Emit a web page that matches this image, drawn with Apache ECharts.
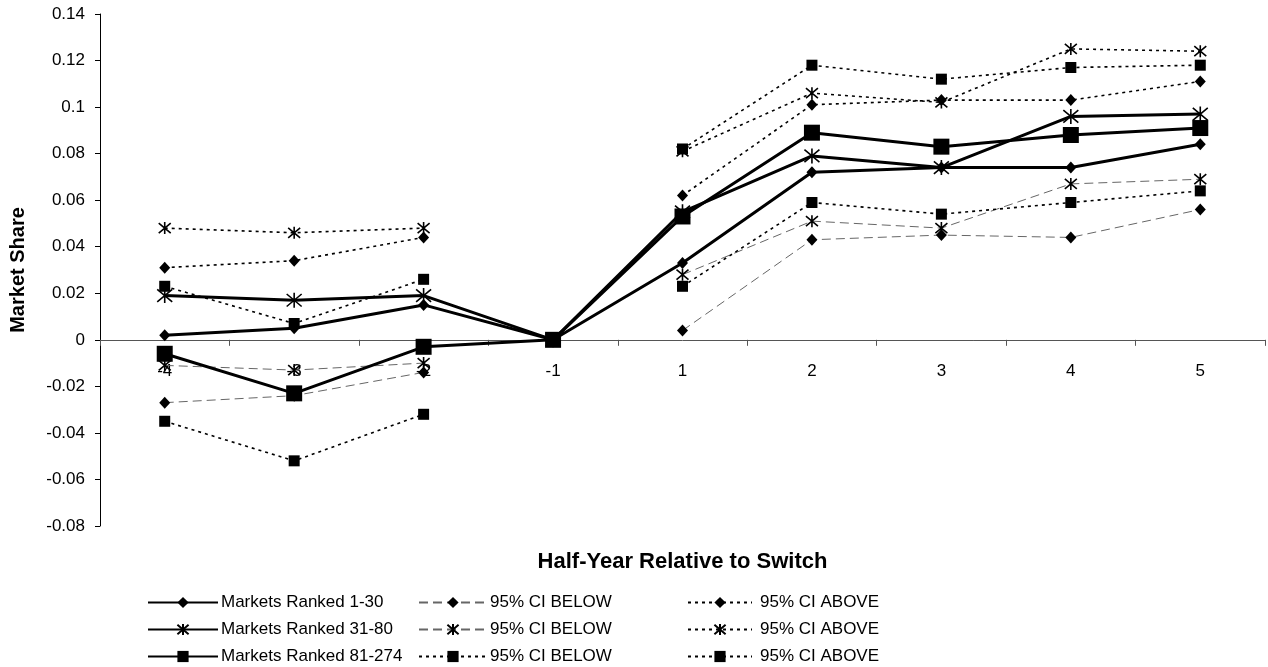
<!DOCTYPE html>
<html>
<head>
<meta charset="utf-8">
<script src="https://cdn.jsdelivr.net/npm/echarts@6/dist/echarts.min.js"></script>
<style>
  html, body { margin: 0; padding: 0; background: #fff; }
  #chart { width: 1268px; height: 667px; }
</style>
</head>
<body>
<div id="chart"></div>
<script>
  // half-year relative to switch
  var categories = ['-4', '-3', '-2', '-1', '1', '2', '3', '4', '5'];

  var rank1_30   = [0.002, 0.005, 0.015, 0, 0.033, 0.072, 0.074, 0.074, 0.084];
  var rank31_80  = [0.019, 0.017, 0.019, 0, 0.055, 0.079, 0.074, 0.096, 0.097];
  var rank81_274 = [-0.006, -0.023, -0.003, 0, 0.053, 0.089, 0.083, 0.088, 0.091];

  var below1_30   = [-0.027, -0.024, -0.014, null, 0.004, 0.043, 0.045, 0.044, 0.056];
  var below31_80  = [-0.011, -0.013, -0.010, null, 0.028, 0.051, 0.048, 0.067, 0.069];
  var below81_274 = [-0.035, -0.052, -0.032, null, 0.023, 0.059, 0.054, 0.059, 0.064];

  var above1_30   = [0.031, 0.034, 0.044, null, 0.062, 0.101, 0.103, 0.103, 0.111];
  var above31_80  = [0.048, 0.046, 0.048, null, 0.081, 0.106, 0.102, 0.125, 0.124];
  var above81_274 = [0.023, 0.007, 0.026, null, 0.082, 0.118, 0.112, 0.117, 0.118];

  var yMin = -0.08, yMax = 0.14, yStep = 0.02;

  var FONT = '"Liberation Sans", Arial, sans-serif';
  var STAR = 'path://M0,0L10,10M10,0L0,10M5,-1L5,11';

  var GRID_TOP = 14, GRID_BOTTOM = 141, H = 667;
  // x axis line sits on the zero value
  var plotH = H - GRID_TOP - GRID_BOTTOM;
  var zeroY = GRID_TOP + plotH * (yMax / (yMax - yMin));
  var xOffset = -((H - GRID_BOTTOM) - zeroY);

  function mkSeries(name, data, symbol, size, kind) {
    var lineStyle;
    if (kind === 'main') {
      lineStyle = { color: '#000', width: 3, type: 'solid' };
    } else if (kind === 'dash') {
      lineStyle = { color: '#666', width: 1, type: [9, 5] };
    } else {
      lineStyle = { color: '#000', width: 1.6, type: [3, 4] };
    }
    return {
      name: name,
      type: 'line',
      data: data,
      symbol: symbol,
      symbolSize: size,
      showAllSymbol: true,
      connectNulls: false,
      z: kind === 'main' ? 5 : 3,
      lineStyle: lineStyle,
      itemStyle: { color: '#000', borderColor: '#000', borderWidth: symbol === STAR ? 1.6 : 0 },
      emphasis: { disabled: true },
      animation: false
    };
  }

  var series = [
    mkSeries('Markets Ranked 1-30', rank1_30, 'diamond', [11, 12], 'main'),
    mkSeries('Markets Ranked 31-80', rank31_80, STAR, 15, 'main'),
    mkSeries('Markets Ranked 81-274', rank81_274, 'rect', 16, 'main'),
    mkSeries('95% CI BELOW|1', below1_30, 'diamond', [11, 12], 'dash'),
    mkSeries('95% CI BELOW|2', below31_80, STAR, 12, 'dash'),
    mkSeries('95% CI BELOW|3', below81_274, 'rect', 11, 'dot'),
    mkSeries('95% CI ABOVE|1', above1_30, 'diamond', [11, 12], 'dot'),
    mkSeries('95% CI ABOVE|2', above31_80, STAR, 12, 'dot'),
    mkSeries('95% CI ABOVE|3', above81_274, 'rect', 11, 'dot')
  ];

  // one legend per entry so the 3x3 block lines up like the original
  var rowY = [601, 628, 655];
  var cols = [
    { left: 147, width: 70, gap: 3, names: ['Markets Ranked 1-30', 'Markets Ranked 31-80', 'Markets Ranked 81-274'] },
    { left: 418, width: 68, gap: 3, names: ['95% CI BELOW|1', '95% CI BELOW|2', '95% CI BELOW|3'] },
    { left: 687, width: 64, gap: 8, names: ['95% CI ABOVE|1', '95% CI ABOVE|2', '95% CI ABOVE|3'] }
  ];
  var legends = [];
  cols.forEach(function (c) {
    c.names.forEach(function (n, i) {
      legends.push({
        left: c.left,
        top: rowY[i] - 7,
        padding: 0,
        itemWidth: c.width,
        itemHeight: 14,
        selectedMode: false,
        data: [n],
        formatter: function (s) { return s.split('|')[0]; },
        textStyle: { fontFamily: FONT, fontSize: 17, lineHeight: 14, color: '#000', padding: [0, 0, 0, c.gap - 5] }
      });
    });
  });

  var chart = echarts.init(document.getElementById('chart'));
  chart.setOption({
    animation: false,
    grid: { left: 100, right: 3, top: GRID_TOP, bottom: GRID_BOTTOM, containLabel: false, outerBoundsMode: 'none' },
    legend: legends,
    xAxis: {
      type: 'category',
      data: categories,
      boundaryGap: true,
      position: 'bottom',
      offset: xOffset,
      name: 'Half-Year Relative to Switch',
      nameLocation: 'middle',
      nameGap: 211,
      nameTextStyle: { fontFamily: FONT, fontSize: 22, fontWeight: 'bold', color: '#000' },
      axisLine: { onZero: false, lineStyle: { color: '#555', width: 1 } },
      axisTick: { show: true, alignWithLabel: false, length: 6, inside: false, lineStyle: { color: '#555' } },
      axisLabel: { fontFamily: FONT, fontSize: 17, color: '#000', margin: 23 },
      splitLine: { show: false }
    },
    yAxis: {
      type: 'value',
      min: yMin,
      max: yMax,
      interval: yStep,
      name: 'Market Share',
      nameLocation: 'middle',
      nameRotate: 90,
      nameGap: 72,
      nameTextStyle: { fontFamily: FONT, fontSize: 20, fontWeight: 'bold', color: '#000' },
      axisLine: { show: true, lineStyle: { color: '#000', width: 1 } },
      axisTick: { show: true, length: 5, lineStyle: { color: '#000' } },
      axisLabel: { fontFamily: FONT, fontSize: 17, color: '#000', margin: 15,
        formatter: function (v) { return String(Math.round(v * 100) / 100); } },
      splitLine: { show: false }
    },
    series: series
  });
</script>
</body>
</html>
